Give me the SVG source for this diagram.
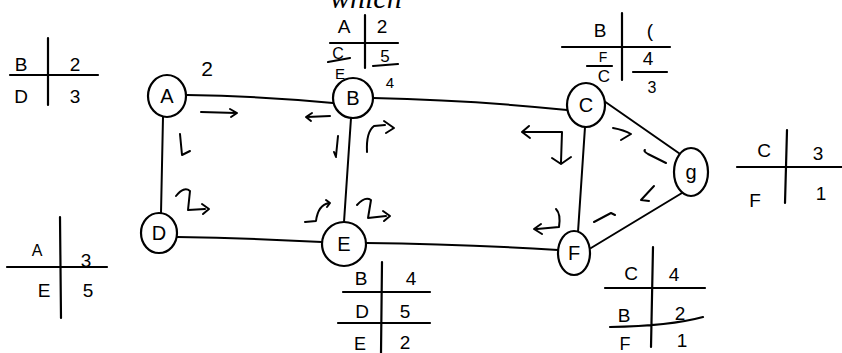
<svg xmlns="http://www.w3.org/2000/svg" width="842" height="353" viewBox="0 0 842 353">
<style>
.ln{fill:none;stroke:#000;stroke-width:2;stroke-linecap:round;stroke-linejoin:round}
.tb{fill:none;stroke:#000;stroke-width:2.2;stroke-linecap:round}
.nd{fill:#fff;stroke:#000;stroke-width:2.2}
.t{font-family:"Liberation Sans",Arial,sans-serif;font-size:19px;fill:#000;text-anchor:middle}
.n{font-family:"Liberation Sans",Arial,sans-serif;font-size:20px;fill:#000;text-anchor:middle;dominant-baseline:central}
.hd{font-family:"Liberation Serif",serif;font-style:italic;font-size:30px;fill:#000}
</style>
<rect width="842" height="353" fill="#fff"/>
<text class="hd" x="330" y="8">which</text>

<g id="connectors">
<path class="ln" d="M187,95 Q260,96 333,103"/>
<path class="ln" d="M373,98 Q470,100 567,110"/>
<path class="ln" d="M163,117 L161,213"/>
<path class="ln" d="M351,118 L344,222"/>
<path class="ln" d="M177,237 Q250,238 322,242"/>
<path class="ln" d="M366,243 Q460,244 558,250"/>
<path class="ln" d="M585,127 L578,232"/>
<path class="ln" d="M604,101 L683,156"/>
<path class="ln" d="M591,248 L682,193"/>
</g>

<g id="flow-marks">
<path class="ln" d="M201,112 L236,113 M230,109 L237,113 L231,117"/>
<path class="ln" d="M180,134 L182,155 L190,151"/>
<path class="ln" d="M330,116 L307,117 M312,113 L306,117 L311,121"/>
<path class="ln" d="M338,136 L336,156 M334,152 L336,157"/>
<path class="ln" d="M367,152 Q366,132 374,126 L385,125 M384,121 L394,128 L386,133"/>
<path class="ln" d="M522,132 L562,132 L561,162 M529,126 L522,132 L530,138 M552,158 L561,164 L571,157"/>
<path class="ln" d="M613,128 Q624,130 631,134 L621,140"/>
<path class="ln" d="M666,163 L648,154 Q643,151 645,150"/>
<path class="ln" d="M654,186 L641,200 L649,201"/>
<path class="ln" d="M594,222 L611,213 L615,215"/>
<path class="ln" d="M556,209 Q561,214 559,227 L537,229 M541,224 L534,229 L542,234" stroke-width="2.4"/>
<path class="ln" d="M176,196 Q184,186 190,191 L188,210 L205,209 M202,204 L209,209 L203,214"/>
<path class="ln" d="M305,222 L316,221 Q318,205 329,203 M326,200 L330,203 L327,207"/>
<path class="ln" d="M357,205 Q365,196 371,200 L368,218 L386,216 M383,211 L390,216 L384,221"/>
</g>

<g id="node-A"><ellipse class="nd" cx="167" cy="96" rx="19" ry="21"/><text class="n" x="167" y="96">A</text></g>
<g id="node-B"><ellipse class="nd" cx="353" cy="98" rx="20" ry="20"/><text class="n" x="353" y="98">B</text></g>
<g id="node-C"><ellipse class="nd" cx="586" cy="105" rx="19" ry="22"/><text class="n" x="586" y="105">C</text></g>
<g id="node-g"><ellipse class="nd" cx="691" cy="172" rx="17" ry="24"/><text class="n" x="691" y="172">g</text></g>
<g id="node-D"><ellipse class="nd" cx="159" cy="233" rx="18" ry="20"/><text class="n" x="159" y="233">D</text></g>
<g id="node-E"><ellipse class="nd" cx="344" cy="244" rx="22" ry="22"/><text class="n" x="344" y="244">E</text></g>
<g id="node-F"><ellipse class="nd" cx="574" cy="253" rx="16" ry="22"/><text class="n" x="574" y="253">F</text></g>

<text class="t" x="207" y="76" style="font-size:21px">2</text>

<g id="table-A">
<path class="tb" d="M48,38 L48,105 M10,75 L98,75"/>
<text class="t" x="21" y="71">B</text><text class="t" x="75" y="71">2</text>
<text class="t" x="21" y="103">D</text><text class="t" x="75" y="103">3</text>
</g>

<g id="table-B">
<path class="tb" d="M365,15 L365,68 M330,43 L398,43 M328,62 L350,58 M373,66 L398,64"/>
<text class="t" x="344" y="33">A</text><text class="t" x="382" y="33">2</text>
<text class="t" x="338" y="59" style="font-size:16px">C</text><text class="t" x="385" y="62" style="font-size:17px">5</text>
<text class="t" x="340" y="79" style="font-size:15px">E</text><text class="t" x="390" y="88" style="font-size:15px">4</text>
</g>

<g id="table-C">
<path class="tb" d="M622,13 L622,80 M562,47 L670,47 M587,66 L612,66 M633,72 L667,72"/>
<text class="t" x="600" y="37">B</text><text class="t" x="650" y="37">(</text>
<text class="t" x="603" y="62" style="font-size:14px">F</text><text class="t" x="648" y="65">4</text>
<text class="t" x="604" y="82" style="font-size:17px">C</text><text class="t" x="652" y="93" style="font-size:16px">3</text>
</g>

<g id="table-g">
<path class="tb" d="M787,130 L785,203 M737,167 L842,167"/>
<text class="t" x="764" y="157">C</text><text class="t" x="818" y="160">3</text>
<text class="t" x="755" y="207">F</text><text class="t" x="821" y="200">1</text>
</g>

<g id="table-D">
<path class="tb" d="M60,217 L61,318 M7,267 L107,267"/>
<text class="t" x="37" y="256" style="font-size:16px">A</text><text class="t" x="86" y="267">3</text>
<text class="t" x="44" y="297">E</text><text class="t" x="88" y="297">5</text>
</g>

<g id="table-E">
<path class="tb" d="M382,262 L381,353 M343,292 L430,292 M338,323 L430,323"/>
<text class="t" x="361" y="285">B</text><text class="t" x="411" y="285">4</text>
<text class="t" x="362" y="318">D</text><text class="t" x="405" y="318">5</text>
<text class="t" x="360" y="350" style="font-size:18px">E</text><text class="t" x="405" y="349">2</text>
</g>

<g id="table-F">
<path class="tb" d="M653,247 L651,347 M605,288 L705,288 M610,327 Q670,326 703,317"/>
<text class="t" x="631" y="280">C</text><text class="t" x="674" y="281">4</text>
<text class="t" x="624" y="322">B</text><text class="t" x="680" y="320">2</text>
<text class="t" x="625" y="350" style="font-size:18px">F</text><text class="t" x="682" y="347">1</text>
</g>
</svg>
